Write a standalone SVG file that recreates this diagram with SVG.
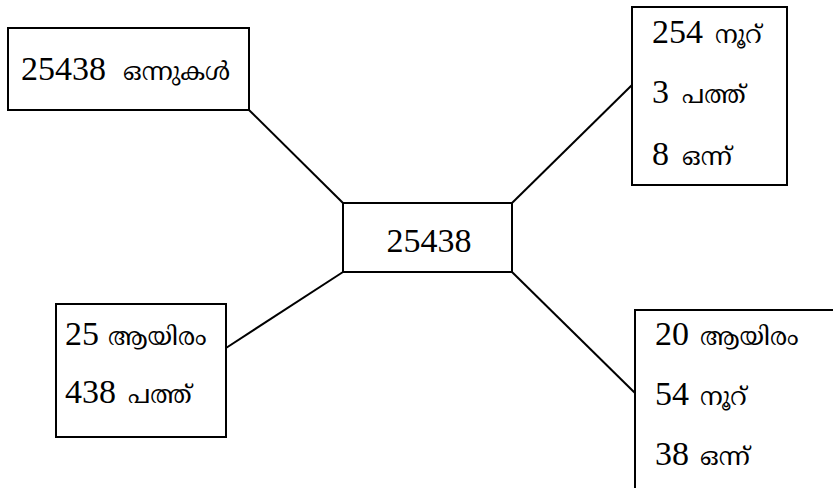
<svg xmlns="http://www.w3.org/2000/svg" width="833" height="488" viewBox="0 0 833 488">
<style>
.box{fill:#fff;stroke:#000;stroke-width:2}
.con{stroke:#000;stroke-width:2;fill:none}
.t{font-size:34px;fill:#000}
.ml{font-size:25px}
</style>
<rect width="833" height="488" fill="#fff"/>
<g id="connectors">
<line class="con" x1="249" y1="110" x2="343" y2="203"/>
<line class="con" x1="512" y1="203" x2="632" y2="85"/>
<line class="con" x1="343" y1="272" x2="226" y2="348"/>
<line class="con" x1="512" y1="272" x2="635" y2="393"/>
</g>
<g id="n-ones">
<rect class="box" x="8" y="28" width="241" height="82"/>
<text class="t" font-family="Liberation Serif, serif" x="21" y="80">25438<tspan class="ml" font-family="Noto Serif Malayalam, Noto Sans Malayalam, serif" x="123">ഒന്നുകൾ</tspan></text>
</g>
<g id="n-center">
<rect class="box" x="343" y="203" width="169" height="69"/>
<text class="t" font-family="Liberation Serif, serif" x="429" y="252" text-anchor="middle">25438</text>
</g>
<g id="n-hundreds">
<rect class="box" x="632" y="7" width="155" height="178"/>
<text class="t" font-family="Liberation Serif, serif" x="652" y="43">254<tspan class="ml" font-family="Noto Serif Malayalam, Noto Sans Malayalam, serif" x="715">നൂറ്</tspan></text>
<text class="t" font-family="Liberation Serif, serif" x="652" y="103">3<tspan class="ml" font-family="Noto Serif Malayalam, Noto Sans Malayalam, serif" x="682">പത്ത്</tspan></text>
<text class="t" font-family="Liberation Serif, serif" x="652" y="165">8<tspan class="ml" font-family="Noto Serif Malayalam, Noto Sans Malayalam, serif" x="682">ഒന്ന്</tspan></text>
</g>
<g id="n-thousands">
<rect class="box" x="56" y="304" width="170" height="133"/>
<text class="t" font-family="Liberation Serif, serif" x="65" y="345">25<tspan class="ml" font-family="Noto Serif Malayalam, Noto Sans Malayalam, serif" x="108">ആയിരം</tspan></text>
<text class="t" font-family="Liberation Serif, serif" x="65" y="403">438<tspan class="ml" font-family="Noto Serif Malayalam, Noto Sans Malayalam, serif" x="128">പത്ത്</tspan></text>
</g>
<g id="n-mixed">
<rect class="box" x="635" y="310" width="220" height="200"/>
<text class="t" font-family="Liberation Serif, serif" x="655" y="345">20<tspan class="ml" font-family="Noto Serif Malayalam, Noto Sans Malayalam, serif" x="700">ആയിരം</tspan></text>
<text class="t" font-family="Liberation Serif, serif" x="655" y="405">54<tspan class="ml" font-family="Noto Serif Malayalam, Noto Sans Malayalam, serif" x="700">നൂറ്</tspan></text>
<text class="t" font-family="Liberation Serif, serif" x="655" y="465">38<tspan class="ml" font-family="Noto Serif Malayalam, Noto Sans Malayalam, serif" x="700">ഒന്ന്</tspan></text>
</g>
</svg>
